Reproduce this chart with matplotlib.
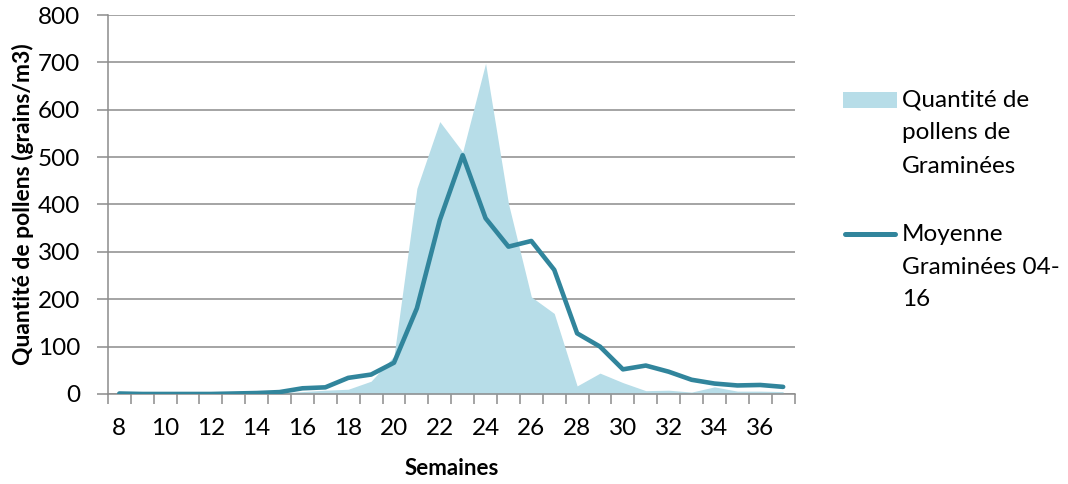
import numpy as np
import matplotlib.pyplot as plt
from matplotlib.patches import Rectangle
from matplotlib.lines import Line2D

plt.rcParams['font.family'] = ['Lato', 'DejaVu Sans']

# Weeks and pollen counts (grains/m3)
weeks = list(range(8, 38))
pollen_2016 = [0, 0, 0, 0, 0, 1, 1, 2, 5, 8, 10, 27, 80, 434, 575, 511, 698, 402,
               205, 170, 17, 44, 24, 7, 8, 4, 15, 6, 6, 5]
mean_04_16 = [1, 0, 0, 0, 0, 1, 2, 4, 12, 14, 34, 41, 66, 181, 367, 504, 371, 311,
              323, 262, 128, 100, 52, 60, 47, 30, 22, 18, 19, 15]
legend_labels = ['Quantité de\npollens de\nGraminées', 'Moyenne\nGraminées 04-\n16']

area_color = '#b7dde8'
line_color = '#31859c'
grid_color = '#8c8c8c'

W, H = 1068, 484
fig = plt.figure(figsize=(W / 100, H / 100), dpi=100)
ax = fig.add_axes([0.101, 0.186, 0.643, 0.783])

ax.fill_between(weeks, pollen_2016, 0, color=area_color, linewidth=0, zorder=1)
ax.plot(weeks, mean_04_16, color=line_color, linewidth=3.3, solid_capstyle='round',
        solid_joinstyle='round', zorder=3)

ax.set_xlim(7.5, 37.5)
ax.set_ylim(0, 800)
ax.set_yticks(range(0, 801, 100))
ax.set_xticks(range(8, 37, 2))
ax.set_xticks(np.arange(7.5, 38, 1), minor=True)

ax.grid(axis='y', color=grid_color, linewidth=1.1, zorder=0)
ax.set_axisbelow(True)
for s in ['top', 'right']:
    ax.spines[s].set_visible(False)
for s in ['left', 'bottom']:
    ax.spines[s].set_color(grid_color)
    ax.spines[s].set_linewidth(1.1)

ax.tick_params(axis='x', which='major', length=0, pad=17, labelsize=17.5)
ax.tick_params(axis='x', which='minor', length=7, color=grid_color, width=1.1)
ax.tick_params(axis='y', length=8, color=grid_color, width=1.1, pad=12, labelsize=17.5)

ax.set_xlabel('Semaines', fontsize=16, fontweight='bold', labelpad=14)
ax.set_ylabel('Quantité de pollens (grains/m3)', fontsize=16.5, fontweight='bold', labelpad=3)

# Legend drawn by hand so the key sits next to the first line of each label
key_x0, key_x1, text_x = 843 / W, 897 / W, 902 / W
first_line_y = [100, 234]
line_step = 33
for i, label in enumerate(legend_labels):
    yc = 1 - first_line_y[i] / H
    if i == 0:
        fig.patches.append(Rectangle((key_x0, yc - 8 / H), key_x1 - key_x0, 16 / H,
                                     transform=fig.transFigure, facecolor=area_color,
                                     edgecolor='none'))
    else:
        fig.lines.append(Line2D([key_x0 + 2 / W, key_x1 - 2 / W], [yc, yc],
                                transform=fig.transFigure, color=line_color,
                                linewidth=3.6, solid_capstyle='round'))
    for j, part in enumerate(label.split('\n')):
        fig.text(text_x, 1 - (first_line_y[i] + j * line_step) / H, part,
                 fontsize=17.5, va='center', ha='left')

fig.savefig('out.png', dpi=100)
